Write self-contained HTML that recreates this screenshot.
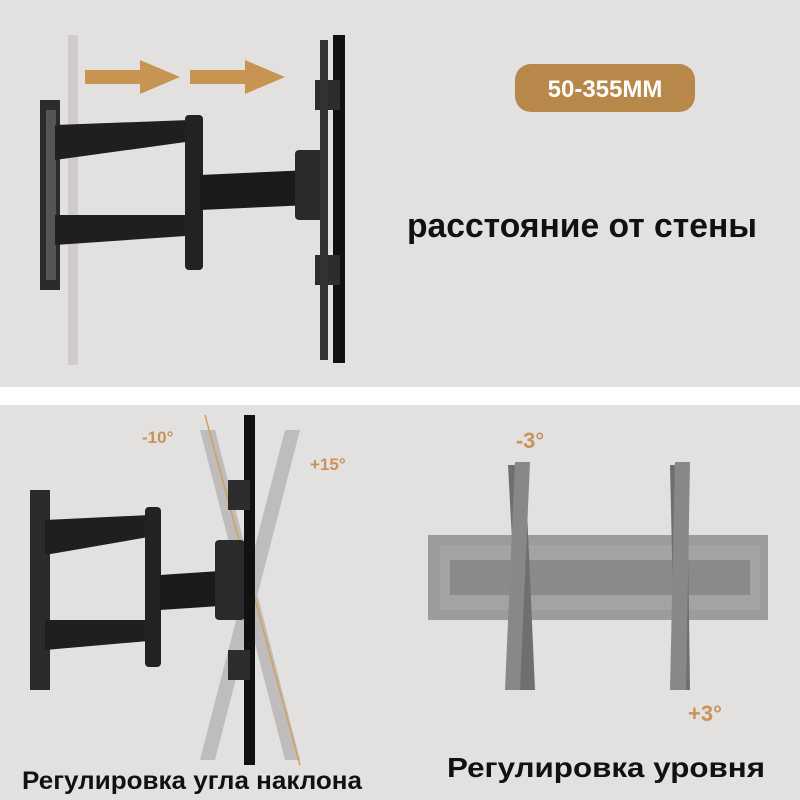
<!DOCTYPE html>
<html><head><meta charset="utf-8"><style>
body{margin:0;width:800px;height:800px;overflow:hidden;background:#fff}
svg{display:block}
text{font-family:"Liberation Sans","DejaVu Sans",sans-serif;font-weight:bold}
</style></head><body>
<svg width="800" height="800" viewBox="0 0 800 800">
<rect x="0" y="0" width="800" height="387" fill="#e3e1df"/>
<rect x="0" y="405" width="800" height="395" fill="#e3e1df"/>

<rect x="68" y="35" width="10" height="330" fill="#cfcccb"/>
<polygon points="85,70 140,70 140,60 180,77 140,94 140,84 85,84" fill="#c89452"/>
<polygon points="190,70 245,70 245,60 285,77 245,94 245,84 190,84" fill="#c89452"/>
<rect x="40" y="100" width="20" height="190" fill="#2b2b2b"/>
<rect x="46" y="110" width="10" height="170" fill="#555"/>
<polygon points="55,125 190,120 200,140 55,160" fill="#1f1f1f"/>
<polygon points="55,215 190,215 200,235 55,245" fill="#1f1f1f"/>
<rect x="185" y="115" width="18" height="155" rx="4" fill="#222"/>
<polygon points="200,175 310,170 310,205 200,210" fill="#1a1a1a"/>
<rect x="295" y="150" width="30" height="70" rx="4" fill="#2a2a2a"/>
<rect x="333" y="35" width="12" height="328" fill="#111"/>
<rect x="315" y="80" width="25" height="30" fill="#2d2d2d"/>
<rect x="315" y="255" width="25" height="30" fill="#2d2d2d"/>
<rect x="320" y="40" width="8" height="320" fill="#333"/>
<rect x="515" y="64" width="180" height="48" rx="16" fill="#b8874a"/>
<text x="605" y="97" font-size="24" fill="#fff" text-anchor="middle" font-weight="normal">50-355MM</text>
<text x="582" y="237" font-size="34" fill="#111" text-anchor="middle" textLength="350" lengthAdjust="spacingAndGlyphs">расстояние от стены</text>

<g opacity="0.25" fill="#555">
<polygon points="200,430 215,430 300,760 285,760"/>
<polygon points="285,430 300,430 215,760 200,760"/>
</g>
<line x1="205" y1="415" x2="300" y2="765" stroke="#d2a060" stroke-width="1.5"/>
<rect x="30" y="490" width="20" height="200" fill="#2b2b2b"/>
<polygon points="45,520 150,515 160,535 45,555" fill="#1f1f1f"/>
<polygon points="45,620 150,620 160,640 45,650" fill="#1f1f1f"/>
<rect x="145" y="507" width="16" height="160" rx="4" fill="#222"/>
<polygon points="160,575 235,570 235,605 160,610" fill="#1a1a1a"/>
<rect x="215" y="540" width="30" height="80" rx="4" fill="#2a2a2a"/>
<rect x="244" y="415" width="11" height="350" fill="#111"/>
<rect x="228" y="480" width="22" height="30" fill="#2d2d2d"/>
<rect x="228" y="650" width="22" height="30" fill="#2d2d2d"/>
<text x="142" y="443" font-size="17" fill="#c8935a" font-weight="normal">-10°</text>
<text x="310" y="470" font-size="17" fill="#c8935a" font-weight="normal">+15°</text>
<text x="22" y="789" font-size="25" fill="#111" textLength="340" lengthAdjust="spacingAndGlyphs">Регулировка угла наклона</text>

<rect x="428" y="535" width="340" height="85" fill="#8f8f8f" opacity="0.85"/>
<rect x="440" y="545" width="320" height="65" fill="#a3a3a3"/>
<rect x="450" y="560" width="300" height="35" fill="#8a8a8a"/>
<g fill="#6f6f6f">
<polygon points="508,465 525,465 535,690 520,690"/>
<polygon points="670,465 687,465 690,690 675,690"/>
</g>
<g fill="#888">
<polygon points="515,462 530,462 520,690 505,690"/>
<polygon points="675,462 690,462 686,690 670,690"/>
</g>
<text x="530" y="448" font-size="22" fill="#c8935a" text-anchor="middle">-3°</text>
<text x="705" y="721" font-size="22" fill="#c8935a" text-anchor="middle">+3°</text>
<text x="447" y="777" font-size="28" fill="#111" textLength="318" lengthAdjust="spacingAndGlyphs">Регулировка уровня</text>
</svg>
</body></html>
